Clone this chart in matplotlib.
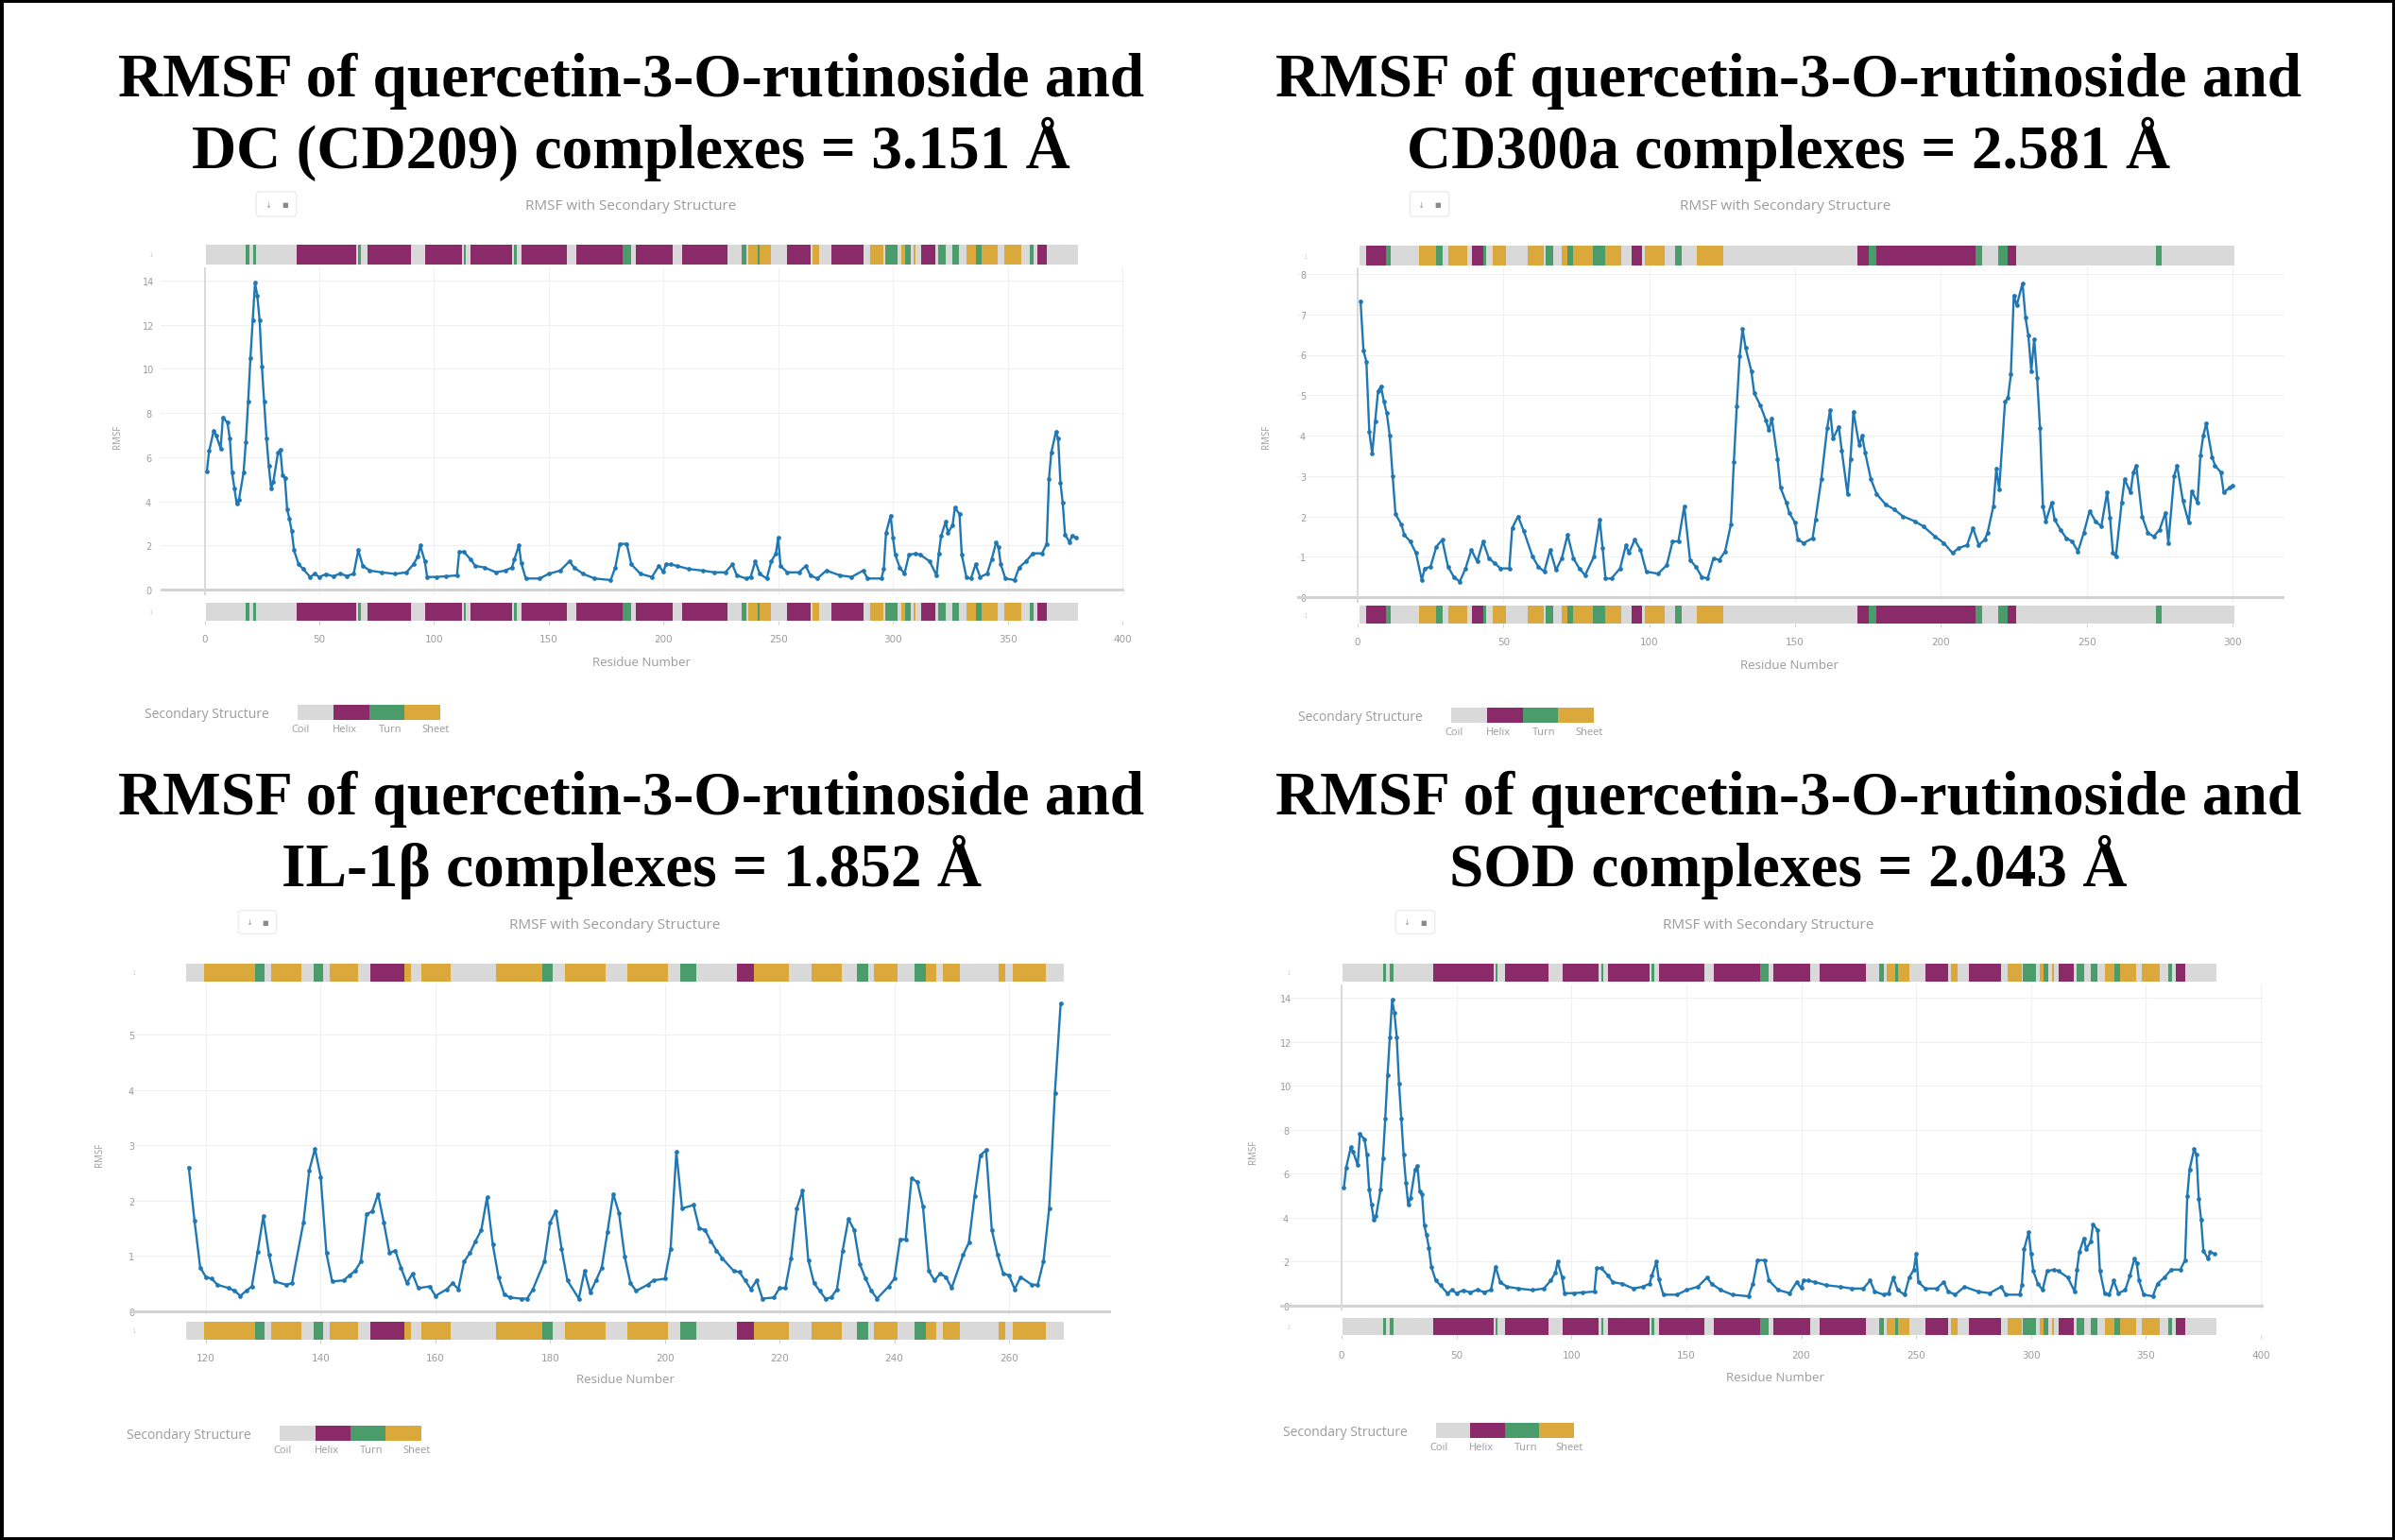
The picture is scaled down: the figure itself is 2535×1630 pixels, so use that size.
import matplotlib.pyplot as plt
from matplotlib.patches import Rectangle, FancyBboxPatch

# ---------------- data ----------------
# DC (CD209) complex
dc_res = [1, 2, 4, 5, 7, 8, 10, 11, 12, 13, 14, 15, 17, 18, 19, 20, 21, 22, 23, 24,
          25, 26, 27, 28, 29, 30, 32, 33, 34, 35, 36, 37, 38, 39, 41, 43, 46, 48, 50, 53,
          56, 59, 62, 65, 67, 69, 72, 77, 83, 88, 91, 93, 94, 96, 97, 101, 105, 110, 111, 113,
          116, 118, 122, 127, 131, 134, 135, 137, 138, 140, 146, 150, 155, 159, 161, 165, 170, 177, 179, 181,
          184, 186, 190, 195, 198, 200, 201, 203, 206, 211, 217, 222, 227, 230, 232, 236, 238, 240, 242, 245,
          247, 249, 250, 251, 254, 259, 262, 264, 267, 271, 277, 282, 287, 289, 295, 296, 297, 299, 300, 301,
          303, 305, 307, 310, 312, 316, 319, 320, 321, 323, 324, 326, 327, 329, 330, 332, 334, 336, 338, 341,
          343, 345, 346, 347, 349, 353, 355, 358, 361, 365, 367, 368, 369, 371, 372, 373, 374, 375, 377, 378,
          380]
dc_rmsf = [5.35, 6.28, 7.2, 7.0, 6.4, 7.8, 7.56, 6.85, 5.3, 4.6, 3.9, 4.07, 5.3, 6.7, 8.5, 10.5, 12.2, 13.9, 13.3, 12.2,
           10.1, 8.5, 6.85, 5.6, 4.6, 4.9, 6.2, 6.35, 5.2, 5.06, 3.64, 3.2, 2.64, 1.78, 1.14, 0.93, 0.57, 0.71, 0.57, 0.7,
           0.6, 0.72, 0.62, 0.71, 1.78, 1.07, 0.86, 0.78, 0.71, 0.78, 1.14, 1.5, 2.0, 1.28, 0.57, 0.57, 0.6, 0.64, 1.71, 1.71,
           1.36, 1.07, 1.0, 0.78, 0.86, 1.0, 1.36, 2.0, 1.21, 0.5, 0.5, 0.71, 0.86, 1.28, 1.0, 0.71, 0.5, 0.43, 1.0, 2.07,
           2.07, 1.14, 0.71, 0.57, 1.07, 0.8, 1.14, 1.14, 1.07, 0.93, 0.86, 0.78, 0.78, 1.14, 0.64, 0.5, 0.57, 1.28, 0.71, 0.5,
           1.28, 1.64, 2.35, 1.07, 0.78, 0.78, 1.07, 0.64, 0.5, 0.86, 0.64, 0.57, 0.86, 0.5, 0.5, 0.93, 2.57, 3.35, 2.35, 1.57,
           1.0, 0.71, 1.57, 1.64, 1.57, 1.28, 0.64, 1.64, 2.43, 3.07, 2.57, 2.92, 3.71, 3.42, 1.57, 0.57, 0.5, 1.14, 0.57, 0.71,
           1.36, 2.14, 1.93, 1.14, 0.5, 0.43, 1.0, 1.28, 1.64, 1.64, 2.07, 5.0, 6.2, 7.13, 6.85, 4.85, 3.92, 2.5, 2.14, 2.43,
           2.35]
dc_ss_start = [18, 21, 40, 67, 71, 96, 113, 116, 135, 138, 162, 182, 188, 208, 234, 237, 241, 242, 254, 265,
               273, 290, 296.5, 303.7, 305.5, 309, 312.2, 319.7, 325.9, 332, 336.2, 338.6, 348.4, 359.8, 363]
dc_ss_end = [19.5, 22.5, 66, 68, 90, 112, 114, 134, 136, 158, 182, 186, 204, 228, 236, 241, 242, 247, 264, 268,
             287, 296, 302, 305.5, 307.6, 310, 318.4, 323.2, 328.7, 336.2, 338.6, 345.7, 356, 361.2, 367.1]
dc_ss_kind = ['Turn', 'Turn', 'Helix', 'Turn', 'Helix', 'Helix', 'Turn', 'Helix', 'Turn', 'Helix',
              'Helix', 'Turn', 'Helix', 'Helix', 'Turn', 'Sheet', 'Turn', 'Sheet', 'Helix', 'Sheet',
              'Helix', 'Sheet', 'Turn', 'Sheet', 'Turn', 'Sheet', 'Helix', 'Turn', 'Turn', 'Sheet',
              'Turn', 'Sheet', 'Sheet', 'Turn', 'Helix']

# CD300a complex
cd300a_res = [1, 2, 3, 4, 5, 6, 7, 8, 9, 10, 11, 12, 13, 15, 16, 18, 20, 22, 23, 25,
              27, 29, 31, 33, 35, 37, 39, 41, 43, 45, 47, 49, 52, 53, 55, 57, 60, 62, 64, 66,
              68, 70, 72, 74, 76, 78, 81, 83, 84, 85, 87, 90, 92, 93, 95, 97, 99, 103, 106, 108,
              110, 112, 114, 116, 118, 120, 122, 124, 126, 128, 129, 130, 131, 132, 133, 135, 136, 138, 140, 141,
              142, 144, 145, 147, 148, 150, 151, 153, 156, 157, 159, 161, 162, 163, 165, 166, 168, 169, 170, 172,
              173, 174, 176, 178, 181, 184, 187, 191, 194, 198, 201, 204, 206, 209, 211, 213, 215, 216, 218, 219,
              220, 222, 223, 224, 225, 226, 228, 229, 230, 231, 232, 233, 234, 235, 236, 238, 239, 241, 243, 245,
              247, 249, 251, 253, 255, 257, 258, 259, 260, 262, 263, 265, 266, 267, 269, 271, 273, 275, 277, 278,
              280, 281, 283, 285, 286, 288, 289, 290, 291, 293, 294, 296, 297, 299, 300]
cd300a_rmsf = [7.33, 6.1, 5.83, 4.09, 3.55, 4.34, 5.1, 5.22, 4.84, 4.55, 4.0, 3.0, 2.05, 1.8, 1.54, 1.38, 1.09, 0.42, 0.71, 0.75,
               1.25, 1.42, 0.75, 0.5, 0.38, 0.71, 1.17, 0.88, 1.38, 0.96, 0.84, 0.71, 0.71, 1.71, 2.0, 1.63, 1.0, 0.75, 0.63, 1.17,
               0.67, 0.96, 1.54, 0.96, 0.71, 0.54, 1.0, 1.92, 1.21, 0.46, 0.46, 0.71, 1.29, 1.09, 1.42, 1.17, 0.63, 0.58, 0.79, 1.38,
               1.38, 2.25, 0.92, 0.75, 0.5, 0.46, 0.96, 0.92, 1.13, 1.8, 3.34, 4.72, 5.97, 6.64, 6.18, 5.6, 5.05, 4.76, 4.38, 4.13,
               4.43, 3.42, 2.71, 2.34, 2.09, 1.84, 1.42, 1.34, 1.46, 1.92, 2.92, 4.18, 4.63, 3.92, 4.22, 3.63, 2.55, 3.42, 4.59, 3.76,
               4.0, 3.59, 2.92, 2.55, 2.3, 2.17, 2.0, 1.88, 1.75, 1.5, 1.34, 1.09, 1.21, 1.29, 1.71, 1.29, 1.42, 1.59, 2.25, 3.17,
               2.67, 4.84, 4.93, 5.51, 7.47, 7.22, 7.77, 6.93, 6.47, 5.6, 6.39, 5.43, 4.18, 2.25, 1.88, 2.34, 1.92, 1.67, 1.46, 1.38,
               1.13, 1.59, 2.13, 1.88, 1.75, 2.59, 1.96, 1.09, 1.0, 2.34, 2.92, 2.59, 3.09, 3.26, 2.0, 1.59, 1.5, 1.67, 2.09, 1.34,
               3.0, 3.26, 2.38, 1.84, 2.63, 2.34, 3.51, 4.01, 4.3, 3.47, 3.26, 3.09, 2.59, 2.71, 2.76]
cd300a_ss_start = [3, 9.7, 21, 26.8, 31, 39.2, 43, 46.3, 58.2, 64.4, 70, 72, 73.9, 80.8, 85, 94, 98.6, 108.8, 116.4,
                   171.3, 175.3, 177.7, 212, 219.7, 222.8, 273.9]
cd300a_ss_end = [9.7, 11.2, 26.8, 29.2, 37.5, 43, 44, 51, 63.7, 67.2, 72, 73.9, 80.8, 85, 90.5, 97.6, 105.2, 111.2, 125.4,
                 175.3, 177.7, 212, 214, 222.8, 225.9, 275.8]
cd300a_ss_kind = ['Helix', 'Turn', 'Sheet', 'Turn', 'Sheet', 'Helix', 'Turn', 'Sheet', 'Sheet', 'Turn',
                  'Sheet', 'Turn', 'Sheet', 'Turn', 'Sheet', 'Helix', 'Sheet', 'Turn', 'Sheet',
                  'Helix', 'Turn', 'Helix', 'Turn', 'Turn', 'Helix', 'Turn']

# IL-1beta complex
il1b_res = [117, 118, 119, 120, 121, 122, 124, 125, 126, 127, 128, 129, 130, 131, 132, 134, 135, 137, 138, 139,
            140, 141, 142, 144, 145, 146, 147, 148, 149, 150, 151, 152, 153, 154, 155, 156, 157, 159, 160, 162,
            163, 164, 165, 166, 167, 168, 169, 170, 171, 172, 173, 175, 176, 177, 179, 180, 181, 182, 183, 185,
            186, 187, 188, 189, 190, 191, 192, 193, 194, 195, 197, 198, 200, 201, 202, 203, 205, 206, 207, 208,
            209, 210, 212, 213, 214, 215, 216, 217, 219, 220, 221, 222, 223, 224, 225, 226, 227, 228, 229, 230,
            231, 232, 233, 234, 235, 236, 237, 239, 240, 241, 242, 243, 244, 245, 246, 247, 248, 249, 250, 252,
            253, 254, 255, 256, 257, 258, 259, 260, 261, 262, 264, 265, 266, 267, 268, 269]
il1b_rmsf = [2.6, 1.64, 0.79, 0.62, 0.59, 0.48, 0.42, 0.37, 0.28, 0.37, 0.45, 1.07, 1.72, 1.02, 0.54, 0.48, 0.51, 1.61, 2.54, 2.94,
             2.43, 1.05, 0.54, 0.56, 0.65, 0.73, 0.9, 1.75, 1.81, 2.12, 1.61, 1.05, 1.1, 0.79, 0.51, 0.68, 0.42, 0.45, 0.28, 0.4,
             0.51, 0.4, 0.9, 1.05, 1.27, 1.47, 2.06, 1.21, 0.62, 0.31, 0.25, 0.23, 0.23, 0.4, 0.9, 1.61, 1.81, 1.13, 0.56, 0.23,
             0.73, 0.34, 0.56, 0.79, 1.44, 2.12, 1.78, 0.99, 0.51, 0.37, 0.48, 0.56, 0.59, 1.13, 2.88, 1.86, 1.92, 1.5, 1.47, 1.27,
             1.1, 0.96, 0.73, 0.71, 0.56, 0.4, 0.56, 0.23, 0.25, 0.42, 0.42, 0.96, 1.86, 2.18, 0.93, 0.51, 0.37, 0.23, 0.25, 0.4,
             1.1, 1.67, 1.47, 0.85, 0.59, 0.37, 0.23, 0.45, 0.59, 1.3, 1.3, 2.4, 2.34, 1.89, 0.73, 0.56, 0.68, 0.62, 0.42, 1.02,
             1.24, 2.09, 2.82, 2.91, 1.47, 1.02, 0.68, 0.65, 0.4, 0.62, 0.48, 0.48, 0.9, 1.86, 3.95, 5.56]
il1b_ss_start = [119.6, 128.5, 131.4, 138.7, 141.6, 148.7, 154.6, 157.6, 170.5, 178.7, 182.6, 193.5, 202.6, 212.6,
                 215.5, 225.5, 233.5, 236.5, 243.5, 245.5, 248.5, 258.2, 260.6]
il1b_ss_end = [128.5, 130.2, 136.7, 140.5, 146.5, 154.6, 155.8, 162.6, 178.7, 180.5, 189.6, 200.5, 205.5, 215.5,
               221.6, 230.8, 235.5, 240.6, 245.5, 247.3, 251.4, 259.4, 266.5]
il1b_ss_kind = ['Sheet', 'Turn', 'Sheet', 'Turn', 'Sheet', 'Helix', 'Sheet', 'Sheet', 'Sheet', 'Turn',
                'Sheet', 'Sheet', 'Turn', 'Helix', 'Sheet', 'Sheet', 'Turn', 'Sheet', 'Turn', 'Sheet',
                'Sheet', 'Sheet', 'Sheet']

# SOD complex: the source shows the same trace and structure as the DC panel
sod_res = list(dc_res)
sod_rmsf = list(dc_rmsf)
sod_ss_start = list(dc_ss_start)
sod_ss_end = list(dc_ss_end)
sod_ss_kind = list(dc_ss_kind)

titles = ["RMSF of quercetin-3-O-rutinoside and\nDC (CD209) complexes = 3.151 Å",
          "RMSF of quercetin-3-O-rutinoside and\nCD300a complexes = 2.581 Å",
          "RMSF of quercetin-3-O-rutinoside and\nIL-1β complexes = 1.852 Å",
          "RMSF of quercetin-3-O-rutinoside and\nSOD complexes = 2.043 Å"]
ss_names = ['Coil', 'Helix', 'Turn', 'Sheet']

# ---------------- styling ----------------
SS_COLORS = {'Coil': '#d9d9d9', 'Helix': '#8b2a69', 'Turn': '#4a9d6a', 'Sheet': '#dba93b'}
LINE = '#1f77b4'
FAINT = '#9b9b9b'
W, H = 2535, 1631

fig = plt.figure(figsize=(W / 100, H / 100), dpi=100)
fig.patch.set_facecolor('white')


def px_axes(x0, y0, x1, y1):
    # pixel box with origin at top-left of the image
    return fig.add_axes([x0 / W, 1 - y1 / H, (x1 - x0) / W, (y1 - y0) / H])


def lims(p0, v0, p1, v1, e0, e1):
    k = (v1 - v0) / (p1 - p0)
    return v0 + (e0 - p0) * k, v0 + (e1 - p0) * k


def ftext(x, y, s, **kw):
    fig.text(x / W, 1 - y / H, s, **kw)


def ss_bar(box, xlim, res, starts, ends, kinds):
    ax = px_axes(*box)
    ax.set_xlim(xlim)
    ax.set_ylim(0, 1)
    ax.add_patch(Rectangle((min(res) - 0.5, 0), max(res) - min(res) + 1, 1,
                           color=SS_COLORS['Coil'], lw=0))
    for s, e, k in zip(starts, ends, kinds):
        ax.add_patch(Rectangle((s, 0), e - s, 1, color=SS_COLORS[k], lw=0))
    for sp in ax.spines.values():
        sp.set_visible(False)
    ax.set_yticks([])
    return ax


panels = [
    dict(res=dc_res, val=dc_rmsf, ss=(dc_ss_start, dc_ss_end, dc_ss_kind), title=titles[0],
         xmap=(216.5, 0, 1188, 400), ymap=(625, 0, 298, 14), box=(170, 284, 1190, 631),
         top=(260, 281), bot=(639, 658), xticks=range(0, 401, 50), yticks=range(0, 15, 2),
         tick_y=673, xlab=(679, 702), sub=(668, 218), btn=(270, 202, 315, 232),
         ytx=157, ylab=(125, 462), cbar=(315, 747, 466, 763), tcx=668, title_y=(102, 178)),
    dict(res=cd300a_res, val=cd300a_rmsf, ss=(cd300a_ss_start, cd300a_ss_end, cd300a_ss_kind), title=titles[1],
         xmap=(1437, 0, 2363, 300), ymap=(633, 0, 291, 8), box=(1373, 284, 2418, 639),
         top=(261, 282), bot=(642, 661), xticks=range(0, 301, 50), yticks=range(0, 9),
         tick_y=676, xlab=(1894, 705), sub=(1890, 219), btn=(1491, 202, 1535, 232),
         ytx=1379, ylab=(1340, 462), cbar=(1536, 750, 1687, 766), tcx=1893, title_y=(102, 178)),
    dict(res=il1b_res, val=il1b_rmsf, ss=(il1b_ss_start, il1b_ss_end, il1b_ss_kind), title=titles[2],
         xmap=(218, 120, 1068, 260), ymap=(1389, 0, 1096, 5), box=(137, 1043, 1176, 1394),
         top=(1021, 1040), bot=(1400, 1419), xticks=range(120, 261, 20), yticks=range(0, 6),
         tick_y=1434, xlab=(662, 1461), sub=(651, 980), btn=(251, 963, 294, 991),
         ytx=139, ylab=(105, 1222), cbar=(296, 1510, 446, 1526), tcx=668, title_y=(862, 938)),
    dict(res=sod_res, val=sod_rmsf, ss=(sod_ss_start, sod_ss_end, sod_ss_kind), title=titles[3],
         xmap=(1420, 0, 2393, 400), ymap=(1383, 0, 1057, 14), box=(1355, 1043, 2396, 1388),
         top=(1021, 1040), bot=(1396, 1414), xticks=range(0, 401, 50), yticks=range(0, 15, 2),
         tick_y=1431, xlab=(1879, 1459), sub=(1872, 980), btn=(1476, 963, 1520, 991),
         ytx=1361, ylab=(1326, 1219), cbar=(1520, 1507, 1666, 1523), tcx=1893, title_y=(862, 938)),
]

for p in panels:
    x0, y0, x1, y1 = p['box']
    xlim = lims(*p['xmap'], x0, x1)
    ylim = lims(*p['ymap'], y1, y0)

    # title (two lines, bold serif)
    for txt, by in zip(p['title'].split('\n'), p['title_y']):
        ftext(p['tcx'], by, txt, ha='center', va='baseline', fontsize=47,
              family='Liberation Serif', weight='bold', color='black')

    # main RMSF axes
    ax = px_axes(x0, y0, x1, y1)
    ax.set_xlim(xlim)
    ax.set_ylim(ylim)
    ax.set_xticks(list(p['xticks']))
    ax.set_yticks(list(p['yticks']))
    ax.grid(True, color='#f0f0f0', lw=0.8)
    ax.set_axisbelow(True)
    for sp in ax.spines.values():
        sp.set_visible(False)
    ax.tick_params(axis='x', length=0, labelbottom=False)
    ax.tick_params(axis='y', length=0, labelsize=7, labelcolor=FAINT, pad=(x0 - p['ytx']) * 0.72)
    for lab in ax.get_yticklabels():
        lab.set_ha('center')
    ax.axhline(0, color='#d2d2d2', lw=2.2, zorder=1)
    if xlim[0] < 0:
        ax.axvline(0, color='#dadada', lw=1.4, zorder=1)
    ax.plot(p['res'], p['val'], color=LINE, lw=1.7, marker='o', ms=3.4, mew=0, zorder=3)

    # secondary-structure strips
    ss_bar((x0, p['top'][0], x1, p['top'][1]), xlim, p['res'], *p['ss']).set_xticks([])
    bax = ss_bar((x0, p['bot'][0], x1, p['bot'][1]), xlim, p['res'], *p['ss'])
    bax.set_xticks(list(p['xticks']))
    bax.tick_params(axis='x', length=3, color='#d0d0d0', labelsize=7.5, labelcolor=FAINT,
                    pad=(p['tick_y'] - p['bot'][1]) * 0.72)
    for lab in bax.get_xticklabels():
        lab.set_va('center')
    for yb in (p['top'], p['bot']):
        ftext(p['ytx'] + 2, sum(yb) / 2, '1', ha='center', va='center', fontsize=5, color='#d5d5d5')

    # texts around the plot
    ftext(*p['sub'], 'RMSF with Secondary Structure', ha='center', va='center',
          fontsize=11, family='Open Sans', color=FAINT)
    ftext(*p['xlab'], 'Residue Number', ha='center', va='center', fontsize=9.5,
          family='Open Sans', color=FAINT)
    ftext(*p['ylab'], 'RMSF', ha='center', va='center', rotation=90, fontsize=7,
          family='Open Sans', color=FAINT)

    # mode-bar like button box
    bx0, by0, bx1, by1 = p['btn']
    bbx = px_axes(bx0, by0, bx1, by1)
    bbx.set_axis_off()
    bbx.add_patch(FancyBboxPatch((0.05, 0.08), 0.9, 0.84, boxstyle='round,pad=0.02,rounding_size=0.1',
                                 fc='white', ec='#ececec', lw=1.0, transform=bbx.transAxes))
    bbx.text(0.3, 0.5, '↓', ha='center', va='center', fontsize=6, color='#9a9a9a',
             family='DejaVu Sans', transform=bbx.transAxes)
    bbx.text(0.7, 0.5, '■', ha='center', va='center', fontsize=5, color='#8a8a8a',
             family='DejaVu Sans', transform=bbx.transAxes)

    # secondary-structure legend
    cx0, cy0, cx1, cy1 = p['cbar']
    cax = px_axes(cx0, cy0, cx1, cy1)
    cax.set_axis_off()
    cax.set_xlim(0, 4)
    cax.set_ylim(0, 1)
    cax.bar(range(4), [1] * 4, width=1, align='edge', color=[SS_COLORS[n] for n in ss_names], lw=0)
    ftext(cx0 - 30, (cy0 + cy1) / 2 + 2, 'Secondary Structure', ha='right', va='center',
          fontsize=10, family='Open Sans', color=FAINT)
    for frac, n in zip((0.02, 0.33, 0.65, 0.97), ss_names):
        ftext(cx0 + frac * (cx1 - cx0), cy1 + 10, n, ha='center', va='center',
              fontsize=8, family='Open Sans', color=FAINT)

# black frame around the whole figure
fig.patches.append(Rectangle((0, 0), 1, 1, transform=fig.transFigure, fill=False,
                             ec='black', lw=5, zorder=10))

fig.savefig('out.png', dpi=100, facecolor='white')
